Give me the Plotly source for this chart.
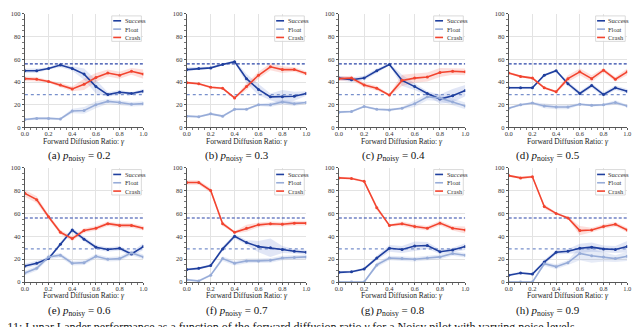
import plotly.graph_objects as go

# forward diffusion ratio (x axis)
x_ratio = [0.0, 0.1, 0.2, 0.3, 0.4, 0.5, 0.6, 0.7, 0.8, 0.9, 1.0]
panel_letters = ["a", "b", "c", "d", "e", "f", "g", "h"]
p_noisy = ["0.2", "0.3", "0.4", "0.5", "0.6", "0.7", "0.8", "0.9"]

# reference levels (horizontal lines)
success_ref = 56
float_ref = 29

# one row per panel (a..h)
success_mean = [
    [50, 50, 52, 55, 52, 47, 36, 29, 31, 30, 32],
    [51, 52, 52.5, 55.5, 58, 43, 33.5, 27, 27, 27.5, 30],
    [43.5, 42, 43.5, 50, 55.5, 41.5, 36, 30, 25, 28, 32.5],
    [35, 35, 35, 46, 50, 38.5, 30, 37, 29, 35, 32],
    [14, 16.5, 20.5, 33, 45.5, 37.5, 30.5, 28.5, 29.5, 24.5, 31],
    [11, 12, 14.5, 29, 40, 34.5, 31, 30, 28.5, 27, 26],
    [8.5, 9, 11.5, 21, 29.5, 28.5, 31.5, 32, 26.5, 28, 31],
    [6, 8, 7, 17.5, 26, 27, 29.5, 30.5, 29, 28.5, 31],
]
success_sd = [
    [2, 2, 1, 2, 2, 5, 6, 2, 2, 1, 2],
    [2, 1, 1, 1, 1, 4, 5, 3, 6, 4, 2],
    [2, 2, 2, 2, 1, 5, 3, 2, 4, 6, 5],
    [1, 1, 1, 1, 1, 2, 2, 2, 2, 2, 2],
    [2, 2, 1, 2, 2, 2, 2, 2, 2, 2, 3],
    [1, 1, 1, 2, 2, 2, 5, 8, 3, 2, 2],
    [1, 1, 1, 2, 3, 3, 4, 3, 2, 2, 3],
    [1, 1, 1, 2, 2, 2, 4, 4, 3, 3, 5],
]
float_mean = [
    [7, 8, 8, 7.5, 14.5, 15, 20, 23, 22, 20.5, 21],
    [10, 9.5, 12, 10, 16, 16, 20, 20, 22.5, 21, 22],
    [13.5, 14, 18.5, 16, 15.5, 17, 21, 27, 26, 22.5, 19],
    [17, 20, 21.5, 19, 18, 18, 20.5, 19.5, 20, 22, 19],
    [8, 12, 22, 23.5, 16.5, 17, 22.5, 20, 20.5, 25.5, 22],
    [2, 1, 6, 20.5, 16.5, 18.5, 18.5, 19, 21, 21.5, 22],
    [0, 0, 0, 15, 21, 20.5, 20, 21, 22, 25, 23.5],
    [0, 0, 0, 16, 13.5, 17, 25, 23, 22, 20.5, 22.5],
]
float_sd = [
    [1, 1, 1, 1, 2, 3, 3, 2, 2, 2, 2],
    [1, 1, 1, 1, 1, 1, 1, 2, 2, 2, 1],
    [1, 1, 1, 1, 1, 1, 3, 3, 3, 3, 3],
    [1, 1, 1, 2, 2, 2, 1, 1, 1, 2, 1],
    [2, 2, 2, 2, 2, 2, 2, 2, 2, 2, 2],
    [1, 1, 1, 2, 2, 2, 2, 2, 2, 2, 2],
    [1, 1, 1, 2, 2, 2, 2, 2, 2, 2, 2],
    [1, 1, 1, 2, 2, 2, 6, 6, 4, 3, 4],
]
crash_mean = [
    [43, 42.5, 40.5, 37.5, 34, 38, 44, 48, 46, 49.5, 47],
    [39.5, 38.5, 35.5, 34.5, 26, 36, 46, 53.5, 51, 51, 47.5],
    [43, 43.5, 37.5, 34.5, 28.5, 41.5, 43.5, 44.5, 48.5, 49.5, 49],
    [48, 45, 43.5, 35, 31.5, 43, 49, 43, 50.5, 42.5, 49],
    [77.5, 72, 57, 43.5, 38, 45, 47, 51, 49.5, 49.5, 47],
    [87, 87, 80, 51, 43.5, 47, 50, 51, 50.5, 51.5, 51.5],
    [91, 90.5, 88, 65, 49.5, 51, 48.5, 47, 51.5, 47, 45.5],
    [93, 91, 92, 66, 60, 56, 45, 45.5, 48.5, 50.5, 45.5],
]
crash_sd = [
    [2, 2, 1, 2, 2, 5, 4, 3, 3, 3, 4],
    [1, 1, 1, 1, 1, 3, 3, 3, 3, 2, 2],
    [2, 2, 2, 2, 1, 5, 4, 4, 4, 3, 3],
    [1, 1, 1, 1, 1, 3, 3, 3, 2, 2, 3],
    [3, 3, 2, 2, 2, 2, 2, 2, 2, 2, 2],
    [2, 2, 2, 2, 1, 3, 2, 2, 2, 2, 2],
    [1, 1, 1, 2, 1, 2, 2, 2, 2, 2, 3],
    [1, 1, 1, 2, 1, 1, 4, 2, 2, 2, 2],
]

SERIF = "Liberation Serif, Times New Roman, serif"
series = [
    ("Success", success_mean, success_sd, "#1f3f9e", "rgba(70,100,200,0.16)"),
    ("Float", float_mean, float_sd, "#97acd8", "rgba(140,165,220,0.22)"),
    ("Crash", crash_mean, crash_sd, "#f2442f", "rgba(242,80,60,0.18)"),
]

# pixel geometry of the panels (640x327 page)
W, H = 640, 327
col_px = [(13, 133), (177, 298), (331, 459), (503, 623)]
row_px = [(2, 118), (159, 276)]
caption_x = [68, 228, 386, 543]
caption_y = [147, 306]
xtitle_y = [132, 289.5]

fig = go.Figure()
layout_axes = {}
shapes = []
annotations = []

for i in range(8):
    row, col = divmod(i, 4)
    key = "" if i == 0 else str(i + 1)
    xa, ya = "x" + key, "y" + key

    # std bands
    for name, mean, sd, lc, bc in series:
        upper = [m + s for m, s in zip(mean[i], sd[i])]
        lower = [max(m - s, 0) for m, s in zip(mean[i], sd[i])]
        fig.add_trace(go.Scatter(
            x=x_ratio + x_ratio[::-1], y=upper + lower[::-1],
            fill="toself", fillcolor=bc, mode="lines", line_width=0,
            hoverinfo="skip", showlegend=False, xaxis=xa, yaxis=ya))

    # reference lines
    fig.add_trace(go.Scatter(
        x=[x_ratio[0], x_ratio[-1]], y=[success_ref, success_ref], mode="lines",
        line=dict(color="#2a44a8", width=1.2, dash="3px,2px"),
        showlegend=False, xaxis=xa, yaxis=ya))
    fig.add_trace(go.Scatter(
        x=[x_ratio[0], x_ratio[-1]], y=[float_ref, float_ref], mode="lines",
        line=dict(color="#7890cc", width=1.2, dash="dot"),
        showlegend=False, xaxis=xa, yaxis=ya))

    # mean lines
    for name, mean, sd, lc, bc in series:
        fig.add_trace(go.Scatter(
            x=x_ratio, y=mean[i], mode="lines+markers", name=name,
            line=dict(color=lc, width=1.6), marker=dict(color=lc, size=3),
            showlegend=False, xaxis=xa, yaxis=ya))

    x0, x1 = col_px[col]
    y0, y1 = row_px[row]
    tick_font = dict(size=6.5, family=SERIF, color="#333")
    layout_axes["xaxis" + key] = dict(
        domain=[x0 / W, x1 / W], anchor=ya, range=[0, 1],
        tickvals=[0, 0.2, 0.4, 0.6, 0.8, 1.0], tickformat=".1f",
        showgrid=True, gridcolor="#e3e3e3", gridwidth=1, zeroline=False,
        showline=True, linecolor="#555", linewidth=1,
        ticks="outside", ticklen=2, tickcolor="#555", tickfont=tick_font,
        ticklabelstandoff=-2,
        minor=dict(ticks="outside", ticklen=1.5, dtick=0.05, tickcolor="#777", showgrid=False))
    layout_axes["yaxis" + key] = dict(
        domain=[1 - y1 / H, 1 - y0 / H], anchor=xa, range=[0, 100],
        tickvals=[0, 20, 40, 60, 80, 100],
        showgrid=True, gridcolor="#e3e3e3", gridwidth=1, zeroline=False,
        showline=True, linecolor="#555", linewidth=1,
        ticks="outside", ticklen=2, tickcolor="#555", tickfont=tick_font,
        minor=dict(ticks="outside", ticklen=1.5, dtick=5, tickcolor="#777", showgrid=False))

    # x axis title
    annotations.append(dict(
        x=(x0 + x1) / 2 / W, y=1 - xtitle_y[row] / H, xref="paper", yref="paper",
        text="Forward Diffusion Ratio: <i>γ</i>", showarrow=False,
        font=dict(size=7.5, family=SERIF, color="#222"), xanchor="center", yanchor="middle"))

    # caption
    annotations.append(dict(
        x=caption_x[col] / W, y=1 - caption_y[row] / H, xref="paper", yref="paper",
        text="(%s) <i>p</i><sub>noisy</sub> = %s" % (panel_letters[i], p_noisy[i]),
        showarrow=False, font=dict(size=11, family=SERIF, color="#111"),
        xanchor="center", yanchor="middle"))

    # hand-drawn legend box (matplotlib style)
    w = x1 - x0
    h = y1 - y0
    bx0 = (w - 32) / w
    shapes.append(dict(
        type="rect", xref=xa + " domain", yref=ya + " domain",
        x0=bx0, x1=(w - 2) / w, y0=1 - 28 / h, y1=1 - 2 / h,
        line=dict(color="#d0d0d0", width=0.8), fillcolor="rgba(255,255,255,0.85)", layer="above"))
    for k, (name, mean, sd, lc, bc) in enumerate(series):
        yy = 1 - (7 + 8.5 * k) / h
        shapes.append(dict(
            type="line", xref=xa + " domain", yref=ya + " domain",
            x0=bx0 + 1.5 / w, x1=bx0 + 9.5 / w, y0=yy, y1=yy,
            line=dict(color=lc, width=1.6), layer="above"))
        annotations.append(dict(
            x=bx0 + 11 / w, y=yy, xref=xa + " domain", yref=ya + " domain",
            text=name, showarrow=False, xanchor="left", yanchor="middle",
            font=dict(size=6.5, family=SERIF, color="#333")))

# figure caption, clipped by the page edges as in the source
annotations.append(dict(
    x=-0.065, y=1 - 322 / H, xref="paper", yref="paper", xanchor="left", yanchor="middle",
    text="Figure 11: Lunar Lander performance as a function of the forward diffusion ratio <i>γ</i> for a Noisy pilot with varying noise levels",
    showarrow=False, font=dict(size=12, family=SERIF, color="#111")))

fig.update_layout(
    width=W, height=H, margin=dict(l=0, r=0, t=0, b=0),
    paper_bgcolor="white", plot_bgcolor="white", showlegend=False,
    shapes=shapes, annotations=annotations, **layout_axes)

fig.write_html("out.html")
